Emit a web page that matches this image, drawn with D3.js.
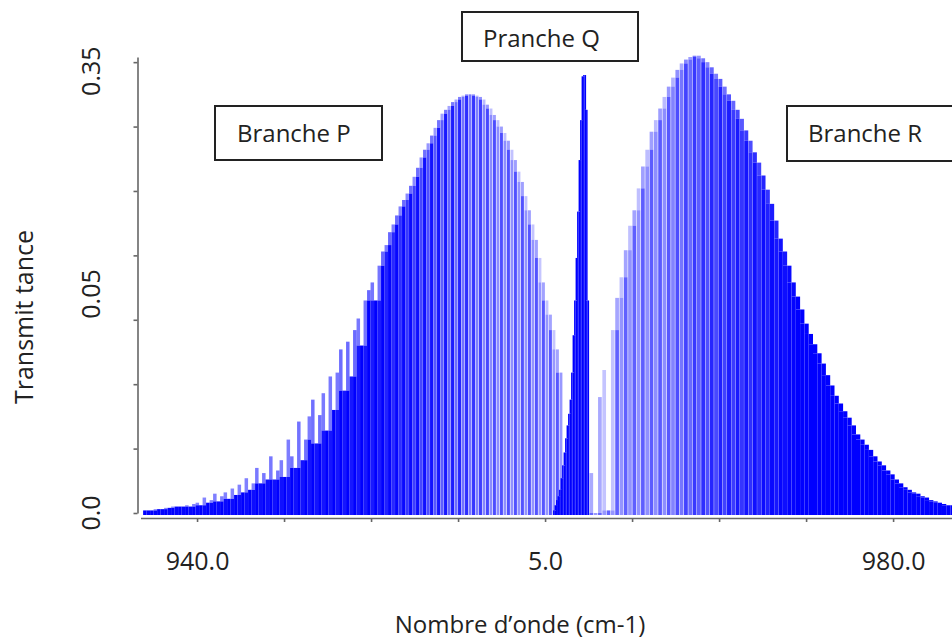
<!DOCTYPE html>
<html>
<head>
<meta charset="utf-8">
<script src="https://cdnjs.cloudflare.com/ajax/libs/d3/7.8.5/d3.min.js"></script>
<style>
  body { margin: 0; background: #fff; }
  text { font-family: "Open Sans", sans-serif; fill: #222; }
</style>
</head>
<body>
<div id="spectre"></div>
<script>
// line heights (transmittance), one per line, low to high wavenumber
var pBranch = [0.002,0.002,0.002,0.003,0.003,0.003,0.004,0.004,0.005,0.005,
	0.005,0.005,0.006,0.005,0.007,0.008,0.006,0.012,0.008,0.010,
	0.015,0.009,0.013,0.016,0.011,0.019,0.014,0.022,0.016,0.027,
	0.018,0.023,0.035,0.023,0.031,0.026,0.044,0.026,0.033,0.041,
	0.028,0.057,0.044,0.035,0.071,0.041,0.057,0.075,0.088,0.054,
	0.076,0.093,0.064,0.106,0.080,0.109,0.127,0.095,0.133,0.106,
	0.142,0.151,0.130,0.165,0.173,0.179,0.165,0.192,0.203,0.208,
	0.218,0.224,0.231,0.238,0.243,0.248,0.254,0.261,0.268,0.276,
	0.282,0.287,0.293,0.299,0.305,0.310,0.313,0.316,0.319,0.321,
	0.323,0.324,0.325,0.325,0.325,0.324,0.323,0.321,0.317,0.314,
	0.309,0.305,0.300,0.295,0.289,0.282,0.274,0.265,0.257,0.246,
	0.235,0.224,0.212,0.198,0.179,0.165,0.154,0.142,0.127,0.109];

var qBranch = [0.002,0.006,0.010,0.013,0.018,0.027,0.037,0.047,0.058,0.068,
	0.077,0.088,0.109,0.138,0.165,0.198,0.234,0.274,0.305,0.339,
	0.340,0.340,0.313,0.165];

var rBranch = [0.031,0,0.090,0.111,0.002,0.142,0.167,0.183,0.204,0.223,
	0.235,0.252,0.269,0.282,0.296,0.305,0.314,0.323,0.331,0.338,
	0.344,0.349,0.352,0.354,0.355,0.355,0.353,0.350,0.346,0.341,
	0.337,0.331,0.325,0.320,0.313,0.306,0.297,0.289,0.280,0.272,
	0.262,0.251,0.240,0.227,0.213,0.203,0.192,0.179,0.168,0.158,
	0.147,0.139,0.131,0.124,0.116,0.107,0.099,0.091,0.085,0.079,
	0.074,0.068,0.061,0.057,0.053,0.049,0.044,0.040,0.037,0.033,
	0.030,0.026,0.023,0.020,0.018,0.016,0.015,0.013,0.012,0.010,
	0.009,0.008,0.007,0.006,0.006];

// wavenumber span (cm-1) covered by each branch
var pRange = [936.9, 961.03];
var qRange = [960.46, 962.53];
var rRange = [962.55, 983.55];

var xTicks = [940, 945, 950, 955, 960, 965, 970, 975, 980];
var xTickLabels = {940: "940.0", 960: "5.0", 980: "980.0"};
var yTicks = [0, 0.05, 0.10, 0.15, 0.20, 0.25, 0.30, 0.35];
var yLabelText = ["0.0", "0.05", "0.35"];
var yLabelAt = [0, 0.17, 0.343];
var branchNames = ["Branche P", "Pranche Q", "Branche R"];

var width = 952, height = 644;

var svg = d3.select("#spectre")
	.append("svg")
		.attr("width", width)
		.attr("height", height);

var x = d3.scaleLinear()
	.domain([936.75, 984])
	.range([140.5, 962.7]);
var y = d3.scaleLinear()
	.domain([0, 0.354])
	.range([513, 57]);

// shading of the sticks: dense parts solid, band centre paler
var shadeDomain = [936, 950.5, 954.5, 957, 961.1, 962.5, 967, 969.5, 972.5, 974.5, 985];
var shadeEven = d3.scaleLinear().domain(shadeDomain)
	.range([1, 1, 0.9, 0.7, 0.65, 0.6, 0.65, 0.85, 0.95, 1, 1]).clamp(true);
var shadeOdd = d3.scaleLinear().domain(shadeDomain)
	.range([1, 0.9, 0.6, 0.45, 0.4, 0.4, 0.45, 0.7, 0.85, 1, 1]).clamp(true);
var gapScale = d3.scaleLinear().domain(shadeDomain)
	.range([0, 0, 0.4, 0.6, 0.6, 0.6, 0.6, 0.4, 0.2, 0, 0]).clamp(true);
var tipScale = d3.scaleLinear().domain(shadeDomain)
	.range([0.45, 0.6, 0.6, 0.55, 0.55, 0.55, 0.6, 0.7, 0.9, 1, 1]).clamp(true);

var base = y(0) + 2;

function drawBranch(vals, range, solid) {
	var band = d3.scaleBand()
		.domain(d3.range(vals.length))
		.range([x(range[0]), x(range[1])]);
	var bw = band.bandwidth();
	var lines = vals.map(function(v, i) {
		var lo = Math.min(v, i > 0 ? vals[i - 1] : v, i < vals.length - 1 ? vals[i + 1] : v);
		var w = x.invert(band(i) + bw / 2);
		var op = solid ? 1 : (i % 2 ? shadeOdd(w) : shadeEven(w));
		return {i: i, v: v, floor: lo, op: op, tip: solid ? 1 : tipScale(w), gap: solid ? 0 : gapScale(w)};
	});
	var g = svg.append("g");
	// paler tip above the neighbours
	g.selectAll("rect.tip")
		.data(lines)
		.enter().append("rect")
			.attr("class", "tip")
			.attr("x", function(d) { return band(d.i); })
			.attr("y", function(d) { return y(d.v); })
			.attr("width", function(d) { return bw - d.gap; })
			.attr("height", function(d) { return y(d.floor) - y(d.v); })
			.attr("fill", "#0000ff")
			.attr("fill-opacity", function(d) { return d.op * d.tip; });
	g.selectAll("rect.body")
		.data(lines)
		.enter().append("rect")
			.attr("class", "body")
			.attr("x", function(d) { return band(d.i); })
			.attr("y", function(d) { return y(d.floor); })
			.attr("width", function(d) { return bw - d.gap; })
			.attr("height", function(d) { return base - y(d.floor); })
			.attr("fill", "#0000ff")
			.attr("fill-opacity", function(d) { return d.op; });
}

drawBranch(pBranch, pRange, false);
drawBranch(rBranch, rRange, false);
drawBranch(qBranch, qRange, true);

// axes
var xAxis = svg.append("g")
	.attr("transform", "translate(0,518)")
	.call(d3.axisBottom(x)
		.tickValues(xTicks)
		.tickSize(4)
		.tickSizeOuter(0)
		.tickPadding(30)
		.tickFormat(function(d) { return xTickLabels[d] || ""; }));

var yAxis = svg.append("g")
	.attr("transform", "translate(137.5,0)")
	.call(d3.axisLeft(y)
		.tickValues(yTicks)
		.tickSize(4)
		.tickSizeOuter(0)
		.tickFormat(""));

svg.selectAll(".domain, .tick line")
	.attr("stroke", "#666")
	.attr("stroke-width", 1.6);
xAxis.selectAll("text")
	.attr("font-family", "Open Sans, sans-serif")
	.attr("font-size", 25)
	.attr("fill", "#222");

svg.append("g")
	.selectAll("text")
	.data(yLabelText)
	.enter().append("text")
		.attr("transform", function(d, i) { return "translate(100," + y(yLabelAt[i]) + ") rotate(-90)"; })
		.attr("text-anchor", "middle")
		.attr("font-size", 25)
		.text(function(d) { return d; });

// axis titles
svg.append("text")
	.attr("transform", "translate(33,317) rotate(-90)")
	.attr("text-anchor", "middle")
	.attr("font-size", 25)
	.text("Transmit tance");

svg.append("text")
	.attr("x", 520)
	.attr("y", 633)
	.attr("text-anchor", "middle")
	.attr("font-size", 24)
	.text("Nombre d\u2019onde (cm-1)");

// branch boxes
var boxes = [
	{x: 215, y: 106, w: 167, h: 54, tx: 237, ty: 142},
	{x: 462, y: 12, w: 176, h: 49, tx: 483, ty: 47},
	{x: 787, y: 106, w: 170, h: 55, tx: 808, ty: 142}
];
var lab = svg.append("g")
	.selectAll("g")
	.data(branchNames)
	.enter().append("g");
lab.append("rect")
	.attr("x", function(d, i) { return boxes[i].x; })
	.attr("y", function(d, i) { return boxes[i].y; })
	.attr("width", function(d, i) { return boxes[i].w; })
	.attr("height", function(d, i) { return boxes[i].h; })
	.attr("fill", "#fff")
	.attr("stroke", "#222")
	.attr("stroke-width", 2);
lab.append("text")
	.attr("x", function(d, i) { return boxes[i].tx; })
	.attr("y", function(d, i) { return boxes[i].ty; })
	.attr("font-size", 24)
	.text(function(d) { return d; });
</script>
</body>
</html>
